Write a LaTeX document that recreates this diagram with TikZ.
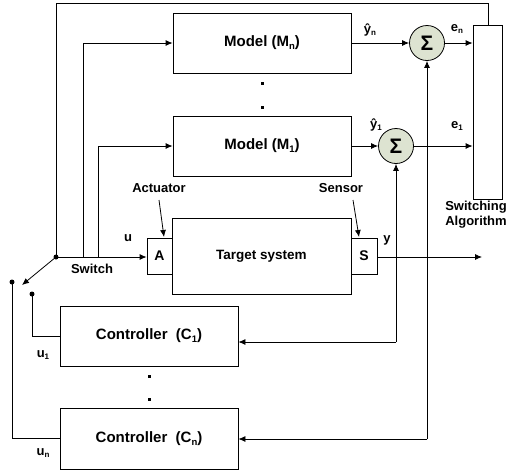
\documentclass[tikz,border=0pt]{standalone}
\usepackage{fontspec}
\setmainfont{Liberation Sans}
\usetikzlibrary{arrows.meta}
\newcommand{\lsub}[1]{\raisebox{-0.35ex}{\fontsize{8}{8}\selectfont #1}}
\newcommand{\bsub}[1]{\raisebox{-0.35ex}{\fontsize{9.5}{9.5}\selectfont #1}}
\definecolor{sigfill}{HTML}{DDE3D1}
\begin{document}
\begin{tikzpicture}[x=1pt,y=-1pt,
  line width=0.8pt,
  every node/.style={font=\bfseries\fontsize{13}{15}\selectfont},
  box/.style={draw, rectangle, inner sep=0pt},
  bigtxt/.style={font=\bfseries\fontsize{15}{17}\selectfont},
  sig/.style={draw, circle, fill=sigfill, minimum size=35pt, inner sep=0pt, font=\bfseries\fontsize{21}{21}\selectfont},
  arr/.style={-{Latex[length=7pt,width=6pt]}},
  dot/.style={circle, fill=black, inner sep=0pt, minimum size=5pt},
  sq/.style={fill=black, inner sep=0pt, minimum width=3pt, minimum height=3pt},
  lab/.style={inner sep=0pt}]
\useasboundingbox (0,0) rectangle (506,472);
% boxes
\node[box, bigtxt, minimum width=178pt, minimum height=60pt] (Mn) at (262,43) {Model (M\bsub{n})};
\node[box, bigtxt, minimum width=178pt, minimum height=60pt] (M1) at (262,146) {Model (M\bsub{1})};
\node[box, font=\bfseries\fontsize{13.5}{15}\selectfont, minimum width=179pt, minimum height=76pt] (T) at (261.5,256) {Target system};
\node[box, font=\bfseries\fontsize{14}{15}\selectfont, minimum width=25pt, minimum height=36pt] (A) at (159.5,256) {A};
\node[box, font=\bfseries\fontsize{14}{15}\selectfont, minimum width=26pt, minimum height=36pt] (S) at (364,256) {S};
\node[sig] (sn) at (427,43) {Σ};
\node[sig] (s1) at (396,146) {Σ};
\node[box, minimum width=29pt, minimum height=174pt] (SW) at (487.5,112) {};
\node[box, bigtxt, minimum width=178pt, minimum height=60pt] (C1) at (149,336) {Controller\ \ (C\bsub{1})};
\node[box, bigtxt, minimum width=178pt, minimum height=61pt] (Cn) at (149,438.5) {Controller\ \ (C\bsub{n})};
% dots between boxes
\node[sq] (d1) at (262,83) {};
\node[sq] (d2) at (262,107) {};
\node[sq] (d3) at (149,376) {};
\node[sq] (d4) at (149,399) {};
% switch
\node[dot] (sw) at (56,257) {};
\node[dot] (p1) at (12,282) {};
\node[dot] (p2) at (32,294) {};
\coordinate (swt) at (22,285);
\coordinate (top1) at (56,3);
\coordinate (top2) at (488,3);
\coordinate (bm) at (83,257);
\coordinate (b1) at (98,257);
\coordinate (yout) at (482,257);
\coordinate (j1) at (396,342);
\coordinate (j2) at (427,439);
% connectors
\draw (sw.center) -- (top1) -- (top2) -- (top2 |- SW.north);
\draw[arr] (sw.center) -- (A.west |- sw);
\draw[arr] (bm) -- (bm |- Mn) -- (Mn.west);
\draw[arr] (b1) -- (b1 |- M1) -- (M1.west);
\draw[arr] (sw.center) -- (swt);
\draw[arr] (Mn.east) -- (sn.west);
\draw[arr] (M1.east) -- (s1.west);
\draw[arr] (sn.east) -- (SW.west |- sn);
\draw[arr] (s1.east) -- (SW.west |- s1);
\draw[arr] (S.east |- yout) -- (yout);
\draw[arr] (j1) -- (s1.south);
\draw[arr] (j1) -- (j1 -| C1.east);
\draw[arr] (j2) -- (sn.south);
\draw[arr] (j2) -- (j2 -| Cn.east);
\draw (p2.center) -- (p2 |- C1) -- (C1.west);
\draw (p1.center) -- (p1 |- Cn) -- (Cn.west);
% labels
\node[lab] (act) at (159,188) {Actuator};
\node[lab] (sen) at (341,188) {Sensor};
\coordinate (acte) at (164,237);
\coordinate (sene) at (359,237);
\draw[arr] (159,200) -- (acte);
\draw[arr] (353,200) -- (sene);
\node[lab] at (128,238) {u};
\node[lab] at (387,240) {y};
\node[lab] at (92,269) {Switch};
\node[lab, align=center, font=\bfseries\fontsize{13}{15}\selectfont] at (476,215) {Switching\\Algorithm};
\node[lab] at (43,355) {u\lsub{1}};
\node[lab] at (43,453) {u\lsub{n}};
\node[lab] at (370,30) {ŷ\lsub{n}};
\node[lab] at (376,125) {ŷ\lsub{1}};
\node[lab] at (457,29) {e\lsub{n}};
\node[lab] at (457,126) {e\lsub{1}};
\end{tikzpicture}
\end{document}
